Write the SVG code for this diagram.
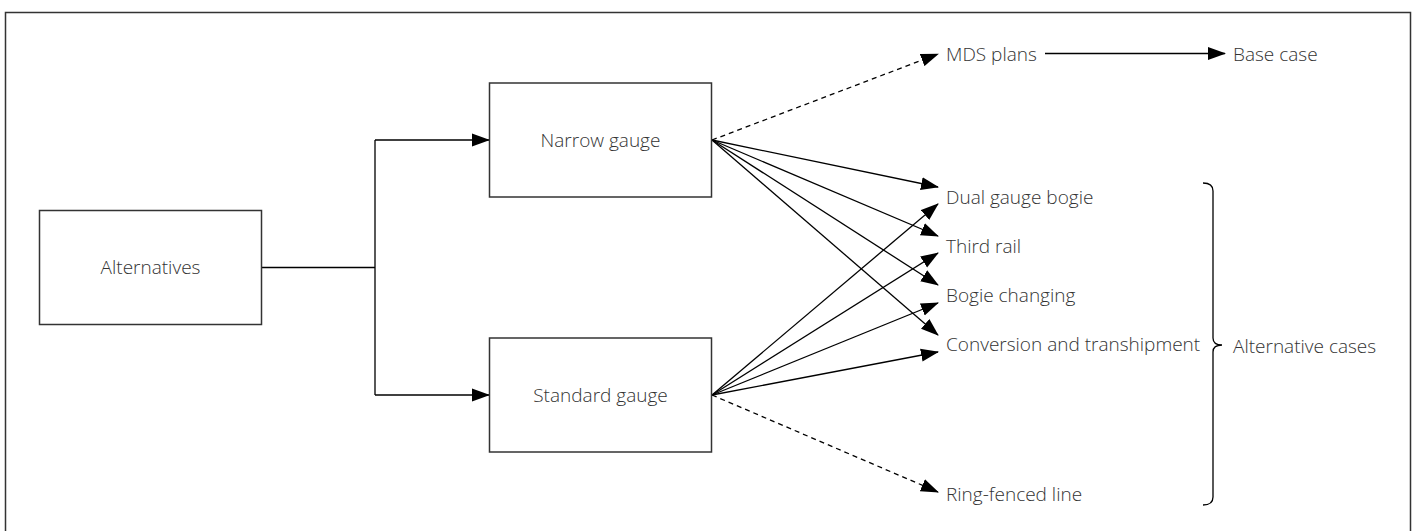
<svg xmlns="http://www.w3.org/2000/svg" width="1416" height="531" viewBox="0 0 1416 531">
<defs>
<marker id="ah" markerUnits="userSpaceOnUse" markerWidth="18" markerHeight="14" viewBox="0 0 18 14" refX="17" refY="7" orient="auto">
<path d="M0,0.5 L18,7 L0,13.5 Z" fill="#000"/>
</marker>
<style>
.box{fill:#fff;stroke:#333;stroke-width:1.5}
.t{font-family:"Open Sans","Liberation Sans",sans-serif;font-weight:300;font-size:19px;fill:#333}
.c{fill:none;stroke:#000;stroke-width:1.3}
.a{marker-end:url(#ah)}
.d{stroke-dasharray:5 4}
</style>
</defs>
<rect x="5.5" y="12.5" width="1405" height="540" fill="none" stroke="#333" stroke-width="1.5"/>
<g id="connectors">
<path class="c" d="M261,267.5 H375 M375,140 V395"/>
<path class="c a" d="M375,140 H489"/>
<path class="c a" d="M375,395 H489"/>
<path class="c a d" d="M712,140 L938,54"/>
<path class="c a" d="M1045,53.5 H1225"/>
<path class="c a" d="M712,140 L938,187"/>
<path class="c a" d="M712,140 L938,236"/>
<path class="c a" d="M712,140 L938,285"/>
<path class="c a" d="M712,140 L938,335"/>
<path class="c a" d="M712,395 L938,204"/>
<path class="c a" d="M712,395 L938,253"/>
<path class="c a" d="M712,395 L938,303"/>
<path class="c a" d="M712,395 L938,352"/>
<path class="c a d" d="M712,395 L938,492"/>
<path class="c" stroke="#333" d="M1203,183 Q1213,183 1213,191 V338 Q1213,345 1222,345 Q1213,345 1213,352 V497 Q1213,505 1203,505"/>
</g>
<g id="alternatives">
<rect class="box" x="39.5" y="210.5" width="222" height="114"/>
<text class="t" x="150.5" y="274" text-anchor="middle">Alternatives</text>
</g>
<g id="narrow">
<rect class="box" x="489.5" y="83" width="222" height="114"/>
<text class="t" x="600.5" y="146.5" text-anchor="middle">Narrow gauge</text>
</g>
<g id="standard">
<rect class="box" x="489.5" y="338" width="222" height="114"/>
<text class="t" x="600.5" y="401.5" text-anchor="middle">Standard gauge</text>
</g>
<g id="mds"><text class="t" x="946" y="61">MDS plans</text></g>
<g id="base"><text class="t" x="1233" y="61">Base case</text></g>
<g id="dual"><text class="t" x="946" y="203.5">Dual gauge bogie</text></g>
<g id="third"><text class="t" x="946" y="252.5">Third rail</text></g>
<g id="bogie"><text class="t" x="946" y="301.5">Bogie changing</text></g>
<g id="conv"><text class="t" x="946" y="350.5">Conversion and transhipment</text></g>
<g id="ring"><text class="t" x="946" y="500.5">Ring-fenced line</text></g>
<g id="altcases"><text class="t" x="1233" y="352.5">Alternative cases</text></g>
</svg>
